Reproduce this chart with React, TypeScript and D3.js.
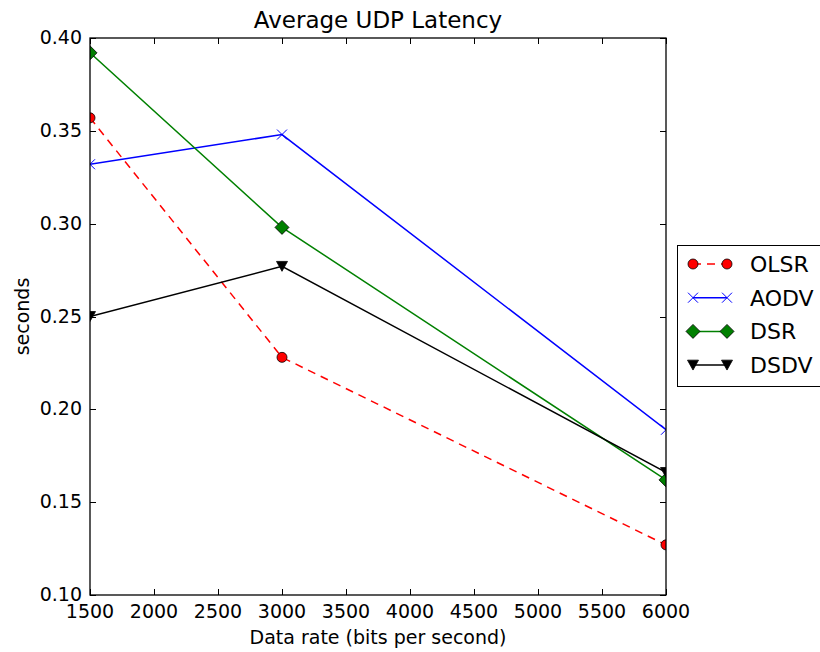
import React, { useEffect, useRef } from 'react'
import * as d3 from 'd3'

const rates = [1500, 3000, 6000]
const olsr = [0.357, 0.228, 0.127]
const aodv = [0.332, 0.348, 0.189]
const dsr = [0.392, 0.298, 0.162]
const dsdv = [0.250, 0.277, 0.166]
const xTicks = [1500, 2000, 2500, 3000, 3500, 4000, 4500, 5000, 5500, 6000]
const yTicks = [0.10, 0.15, 0.20, 0.25, 0.30, 0.35, 0.40]

const series = [
  { name: 'OLSR', values: olsr, color: '#ff0000', dash: '8,6', marker: 'circle' },
  { name: 'AODV', values: aodv, color: '#0000ff', dash: null, marker: 'x' },
  { name: 'DSR', values: dsr, color: '#008000', dash: null, marker: 'diamond' },
  { name: 'DSDV', values: dsdv, color: '#000000', dash: null, marker: 'triangle' },
]

const font = 'DejaVu Sans, sans-serif'

const App = () => {
  const ref = useRef<SVGSVGElement>(null)

  useEffect(() => {
    const svg = d3.select(ref.current)
    svg.selectAll('*').remove()
    const margin = { left: 90, top: 38, right: 666, bottom: 595 }
    const x = d3.scaleLinear().domain([1500, 6000]).range([margin.left, margin.right])
    const y = d3.scaleLinear().domain([0.1, 0.4]).range([margin.bottom, margin.top])

    svg.append('defs').append('clipPath').attr('id', 'plotclip')
      .append('rect')
      .attr('x', margin.left).attr('y', margin.top)
      .attr('width', margin.right - margin.left).attr('height', margin.bottom - margin.top)

    // title
    svg.append('text').attr('x', (margin.left + margin.right) / 2).attr('y', 28)
      .attr('text-anchor', 'middle').attr('font-family', font).attr('font-size', 23)
      .text('Average UDP Latency')

    // ticks inside on all sides
    const tk = svg.append('g').attr('stroke', '#000').attr('stroke-width', 1)
    xTicks.forEach(t => {
      const xx = Math.round(x(t)) + 0.5
      tk.append('line').attr('x1', xx).attr('x2', xx).attr('y1', margin.bottom).attr('y2', margin.bottom - 6)
      tk.append('line').attr('x1', xx).attr('x2', xx).attr('y1', margin.top).attr('y2', margin.top + 6)
      svg.append('text').attr('x', x(t)).attr('y', margin.bottom + 23)
        .attr('text-anchor', 'middle').attr('font-family', font).attr('font-size', 19)
        .text(t)
    })
    yTicks.forEach(t => {
      const yy = Math.round(y(t)) + 0.5
      tk.append('line').attr('x1', margin.left).attr('x2', margin.left + 6).attr('y1', yy).attr('y2', yy)
      tk.append('line').attr('x1', margin.right).attr('x2', margin.right - 6).attr('y1', yy).attr('y2', yy)
      svg.append('text').attr('x', margin.left - 8).attr('y', y(t) + 6)
        .attr('text-anchor', 'end').attr('font-family', font).attr('font-size', 19)
        .text(t.toFixed(2))
    })

    // axis labels
    svg.append('text').attr('x', (margin.left + margin.right) / 2).attr('y', 644)
      .attr('text-anchor', 'middle').attr('font-family', font).attr('font-size', 19)
      .text('Data rate (bits per second)')
    svg.append('text').attr('transform', 'translate(29,' + (margin.top + margin.bottom) / 2 + ') rotate(-90)')
      .attr('text-anchor', 'middle').attr('font-family', font).attr('font-size', 19)
      .text('seconds')

    const drawMarker = (g: any, kind: string, cx: number, cy: number, color: string) => {
      if (kind === 'circle') {
        g.append('circle').attr('cx', cx).attr('cy', cy).attr('r', 5)
          .attr('fill', color).attr('stroke', '#000').attr('stroke-width', 0.8)
      } else if (kind === 'x') {
        const s = 5
        g.append('path').attr('d', `M${cx - s},${cy - s}L${cx + s},${cy + s}M${cx - s},${cy + s}L${cx + s},${cy - s}`)
          .attr('stroke', color).attr('stroke-width', 1).attr('fill', 'none')
      } else if (kind === 'diamond') {
        const s = 7
        g.append('path').attr('d', `M${cx},${cy - s}L${cx + s},${cy}L${cx},${cy + s}L${cx - s},${cy}Z`)
          .attr('fill', color).attr('stroke', '#000').attr('stroke-width', 0.8)
      } else {
        const s = 5.5
        g.append('path').attr('d', `M${cx - s},${cy - s * 0.9}L${cx + s},${cy - s * 0.9}L${cx},${cy + s * 0.9}Z`)
          .attr('fill', color).attr('stroke', '#000').attr('stroke-width', 0.8)
      }
    }

    const plot = svg.append('g').attr('clip-path', 'url(#plotclip)')
    const line = d3.line<number>().x((d, i) => x(rates[i])).y(d => y(d))
    series.forEach(s => {
      plot.append('path').attr('d', line(s.values))
        .attr('fill', 'none').attr('stroke', s.color).attr('stroke-width', 1.5)
        .attr('stroke-dasharray', s.dash)
      s.values.forEach((v, i) => drawMarker(plot, s.marker, x(rates[i]), y(v), s.color))
    })

    // frame
    svg.append('rect').attr('x', margin.left).attr('y', margin.top)
      .attr('width', margin.right - margin.left).attr('height', margin.bottom - margin.top)
      .attr('fill', 'none').attr('stroke', '#000').attr('stroke-width', 1.3)

    // legend
    const lg = svg.append('g')
    lg.append('rect').attr('x', 677.5).attr('y', 245.5).attr('width', 160).attr('height', 141)
      .attr('fill', '#fff').attr('stroke', '#000').attr('stroke-width', 1)
    series.forEach((s, i) => {
      const ly = 264 + i * 33.7
      lg.append('line').attr('x1', 693).attr('x2', 727).attr('y1', ly).attr('y2', ly)
        .attr('stroke', s.color).attr('stroke-width', 1.5).attr('stroke-dasharray', s.dash)
      drawMarker(lg, s.marker, 693, ly, s.color)
      drawMarker(lg, s.marker, 727, ly, s.color)
      lg.append('text').attr('x', 750).attr('y', ly + 8).attr('font-family', font).attr('font-size', 22)
        .text(s.name)
    })
  }, [])

  return <svg ref={ref} width={820} height={652} style={{ position: 'absolute', left: 0, top: 0 }}></svg>
}

export default App
